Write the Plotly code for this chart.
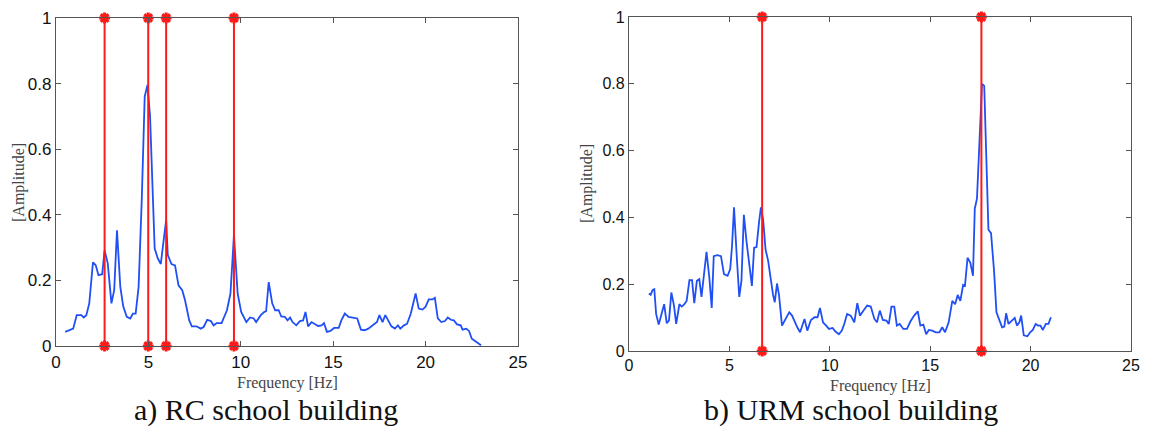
import plotly.graph_objects as go

# ---- data: RC school building (panel a) ----
rc_freq = [0.5, 0.73, 0.93, 1.12, 1.37, 1.5, 1.64, 1.8, 2.0, 2.15, 2.3, 2.5, 2.63, 2.8, 3.0, 3.15, 3.3, 3.48,
           3.64, 3.83, 4.02, 4.16, 4.31, 4.47, 4.64, 4.8, 4.95, 5.09, 5.24, 5.34, 5.51, 5.67, 5.82, 5.96, 6.05,
           6.25, 6.44, 6.63, 6.83, 6.98, 7.21, 7.35, 7.6, 7.83, 7.99, 8.18, 8.38, 8.53, 8.7, 8.96, 9.25, 9.44,
           9.63, 9.83, 10.02, 10.3, 10.5, 10.7, 10.83, 11.08, 11.28, 11.37, 11.51, 11.7, 11.86, 12.05, 12.19,
           12.38, 12.53, 12.67, 12.8, 13.0, 13.2, 13.37, 13.5, 13.64, 13.83, 13.99, 14.18, 14.37, 14.5, 14.66,
           14.85, 15.05, 15.3, 15.44, 15.63, 15.83, 16.0, 16.2, 16.3, 16.5, 16.7, 16.9, 17.18, 17.37, 17.5,
           17.67, 17.82, 17.96, 18.15, 18.34, 18.5, 18.63, 18.83, 19.0, 19.2, 19.46, 19.63, 19.83, 20.0, 20.17,
           20.37, 20.5, 20.66, 20.85, 21.05, 21.2, 21.37, 21.53, 21.7, 21.9, 22.0, 22.2, 22.35, 22.5, 22.73, 23.0]
rc_amp = [0.043, 0.048, 0.053, 0.094, 0.094, 0.087, 0.094, 0.13, 0.255, 0.246, 0.216, 0.219, 0.292, 0.252, 0.13,
          0.17, 0.353, 0.18, 0.12, 0.089, 0.084, 0.099, 0.099, 0.18, 0.445, 0.76, 0.796, 0.70, 0.445, 0.297,
          0.267, 0.25, 0.32, 0.384, 0.277, 0.25, 0.246, 0.185, 0.17, 0.14, 0.078, 0.06, 0.06, 0.053, 0.058,
          0.08, 0.076, 0.063, 0.07, 0.07, 0.109, 0.16, 0.338, 0.16, 0.104, 0.073, 0.087, 0.084, 0.073, 0.094,
          0.104, 0.106, 0.195, 0.13, 0.109, 0.109, 0.09, 0.089, 0.078, 0.087, 0.073, 0.063, 0.076, 0.078,
          0.104, 0.06, 0.073, 0.068, 0.061, 0.063, 0.07, 0.043, 0.046, 0.055, 0.055, 0.078, 0.099, 0.089,
          0.087, 0.084, 0.084, 0.05, 0.048, 0.053, 0.066, 0.073, 0.094, 0.073, 0.094, 0.078, 0.06, 0.053,
          0.063, 0.053, 0.063, 0.068, 0.099, 0.16, 0.114, 0.111, 0.12, 0.142, 0.142, 0.147, 0.084, 0.073,
          0.076, 0.087, 0.08, 0.078, 0.066, 0.063, 0.05, 0.053, 0.046, 0.022, 0.012, 0.002]
rc_modes = [2.63, 4.99, 5.96, 9.63]

# ---- data: URM school building (panel b) ----
urm_freq = [0.99, 1.08, 1.17, 1.26, 1.35, 1.48, 1.6, 1.75, 1.88, 1.99, 2.11, 2.24, 2.35, 2.51, 2.62, 2.74, 2.87,
            3.01, 3.14, 3.25, 3.38, 3.5, 3.61, 3.75, 3.86, 4.0, 4.12, 4.22, 4.4, 4.58, 4.73, 4.91, 5.04, 5.13,
            5.23, 5.36, 5.49, 5.6, 5.72, 5.85, 5.99, 6.12, 6.23, 6.35, 6.48, 6.57, 6.68, 6.8, 6.93, 7.04, 7.17,
            7.26, 7.37, 7.47, 7.62, 7.8, 7.98, 8.12, 8.25, 8.38, 8.52, 8.74, 8.88, 9.06, 9.24, 9.39, 9.51, 9.66,
            9.82, 9.96, 10.14, 10.27, 10.45, 10.6, 10.72, 10.86, 11.04, 11.22, 11.37, 11.5, 11.68, 11.86, 12.04,
            12.22, 12.35, 12.49, 12.64, 12.82, 12.94, 13.07, 13.21, 13.34, 13.48, 13.66, 13.84, 14.02, 14.2,
            14.38, 14.51, 14.66, 14.8, 14.93, 15.1, 15.28, 15.46, 15.6, 15.74, 15.92, 16.1, 16.24, 16.37, 16.5,
            16.64, 16.73, 16.86, 17.0, 17.13, 17.22, 17.33, 17.45, 17.58, 17.69, 17.82, 17.9, 18.03, 18.18,
            18.3, 18.45, 18.58, 18.69, 18.78, 18.9, 19.08, 19.21, 19.32, 19.44, 19.53, 19.66, 19.84, 19.98,
            20.11, 20.25, 20.38, 20.49, 20.61, 20.76, 20.89, 21.01]
urm_amp = [0.172, 0.168, 0.182, 0.185, 0.111, 0.079, 0.106, 0.14, 0.083, 0.091, 0.175, 0.136, 0.081, 0.14, 0.133,
           0.139, 0.15, 0.212, 0.212, 0.143, 0.21, 0.215, 0.162, 0.235, 0.297, 0.22, 0.129, 0.284, 0.287,
           0.284, 0.23, 0.225, 0.245, 0.314, 0.43, 0.289, 0.162, 0.21, 0.408, 0.329, 0.25, 0.195, 0.309,
           0.311, 0.388, 0.43, 0.393, 0.304, 0.27, 0.22, 0.17, 0.146, 0.202, 0.168, 0.076, 0.096, 0.116,
           0.106, 0.086, 0.071, 0.056, 0.096, 0.061, 0.093, 0.101, 0.101, 0.129, 0.086, 0.076, 0.066, 0.069,
           0.059, 0.05, 0.061, 0.081, 0.111, 0.106, 0.086, 0.143, 0.106, 0.121, 0.136, 0.133, 0.096, 0.086,
           0.121, 0.093, 0.091, 0.081, 0.133, 0.133, 0.076, 0.081, 0.066, 0.066, 0.089, 0.106, 0.119, 0.076,
           0.079, 0.05, 0.063, 0.061, 0.056, 0.056, 0.071, 0.056, 0.086, 0.15, 0.14, 0.168, 0.15, 0.198,
           0.195, 0.279, 0.264, 0.225, 0.426, 0.457, 0.606, 0.8, 0.794, 0.547, 0.363, 0.353, 0.24, 0.116,
           0.091, 0.071, 0.073, 0.113, 0.081, 0.093, 0.099, 0.076, 0.086, 0.106, 0.047, 0.044, 0.056, 0.063,
           0.081, 0.076, 0.076, 0.063, 0.081, 0.081, 0.101]
urm_modes = [6.63, 17.55]

x_ticks = [0, 5, 10, 15, 20, 25]
y_ticks = [0, 0.2, 0.4, 0.6, 0.8, 1]
y_tick_labels = ["0", "0.2", "0.4", "0.6", "0.8", "1"]
x_title = "Frequency [Hz]"
y_title = "[Amplitude]"
captions = ["a) RC school building", "b) URM school building"]

# page has an 8px body margin; figure offset accordingly
OFF = 8
W, H = 1149 - 2 * OFF, 435 - 2 * OFF
BLUE = "#1f4ff5"
RED = "#ff1a1a"


def px(x):
    return (x - OFF) / W


def py(y):
    return (H - (y - OFF)) / H


def mode_lines(freqs):
    xs, ys = [], []
    for f in freqs:
        xs += [f, f, None]
        ys += [0, 1, None]
    return xs, ys


fig = go.Figure()

for idx, (fx, fy, modes) in enumerate([(rc_freq, rc_amp, rc_modes), (urm_freq, urm_amp, urm_modes)]):
    xa = "x" if idx == 0 else "x2"
    ya = "y" if idx == 0 else "y2"
    fig.add_trace(go.Scatter(x=fx, y=fy, mode="lines", line=dict(color=BLUE, width=1.8),
                             xaxis=xa, yaxis=ya, showlegend=False, hoverinfo="x+y"))
    mx, my = mode_lines(modes)
    fig.add_trace(go.Scatter(x=mx, y=my, mode="lines+markers",
                             line=dict(color=RED, width=2),
                             marker=dict(symbol="asterisk-open", size=9, color=RED,
                                         line=dict(color=RED, width=3)),
                             cliponaxis=False, xaxis=xa, yaxis=ya, showlegend=False))


def axis_style(size):
    return dict(showline=True, linecolor="#555555", linewidth=1.2, mirror="ticks",
                ticks="inside", ticklen=5, tickcolor="#555555", showgrid=False, zeroline=False,
                automargin=False, ticklabeloverflow="allow",
                tickfont=dict(family="Liberation Sans, Arial, sans-serif", size=size, color="#111111"))


# panel boxes in reference pixels: (left, right, top, bottom)
boxes = [(56, 518, 18, 346), (629, 1131, 17, 351)]

fig.update_layout(
    width=W, height=H,
    margin=dict(l=0, r=0, t=0, b=0),
    paper_bgcolor="white", plot_bgcolor="white",
    xaxis=dict(domain=[px(boxes[0][0]), px(boxes[0][1])], range=[0, 25], tickvals=x_ticks, anchor="y",
               **axis_style(17)),
    yaxis=dict(domain=[py(boxes[0][3]), py(boxes[0][2])], range=[0, 1], tickvals=y_ticks,
               ticktext=y_tick_labels, anchor="x", **axis_style(17)),
    xaxis2=dict(domain=[px(boxes[1][0]), px(boxes[1][1])], range=[0, 25], tickvals=x_ticks, anchor="y2",
                **axis_style(16)),
    yaxis2=dict(domain=[py(boxes[1][3]), py(boxes[1][2])], range=[0, 1], tickvals=y_ticks,
                ticktext=y_tick_labels, anchor="x2", **axis_style(16)),
)

title_font = dict(family="Liberation Serif, Times New Roman, serif", size=16, color="#444444")
# axis titles
for (xt, yt), (yx, yy) in [((287, 383), (19, 183)), ((880, 386), (587, 184))]:
    fig.add_annotation(text=x_title, x=px(xt), y=py(yt), xref="paper", yref="paper", showarrow=False,
                       font=title_font, xanchor="center", yanchor="middle")
    fig.add_annotation(text=y_title, x=px(yx), y=py(yy), xref="paper", yref="paper", showarrow=False,
                       font=title_font, textangle=-90, xanchor="center", yanchor="middle")

caption_font = dict(family="Liberation Serif, Times New Roman, serif", size=30, color="#111111")
for text, cx in zip(captions, [266, 851]):
    fig.add_annotation(text=text, x=px(cx), y=py(410), xref="paper", yref="paper",
                       showarrow=False, font=caption_font, xanchor="center", yanchor="middle")

fig.write_html("out.html")
